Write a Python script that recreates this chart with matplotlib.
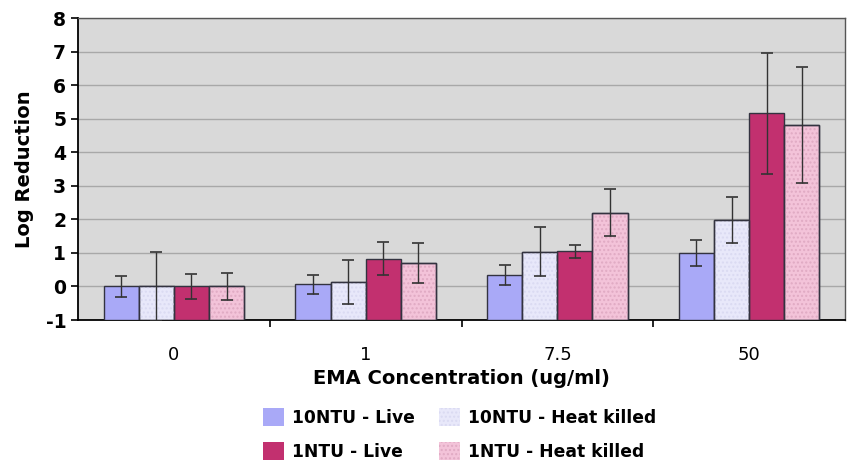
import matplotlib
matplotlib.use("Agg")
import matplotlib.pyplot as plt
import numpy as np
from matplotlib.patches import Patch

categories = ["0", "1", "7.5", "50"]
series_names = ["10NTU - Live", "10NTU - Heat killed", "1NTU - Live", "1NTU - Heat killed"]
live_10 = [0.0, 0.06, 0.35, 0.99]
live_10_err = [0.30, 0.28, 0.30, 0.39]
hk_10 = [0.0, 0.13, 1.03, 1.98]
hk_10_err = [1.03, 0.66, 0.73, 0.68]
live_1 = [0.0, 0.82, 1.05, 5.16]
live_1_err = [0.36, 0.49, 0.19, 1.80]
hk_1 = [0.0, 0.70, 2.20, 4.80]
hk_1_err = [0.40, 0.60, 0.69, 1.73]

values = [live_10, hk_10, live_1, hk_1]
errors = [live_10_err, hk_10_err, live_1_err, hk_1_err]
colors = ["#a9a9f7", "#e8e8fa", "#c2306f", "#f3c3d9"]
hatch_colors = [None, "#dadaf2", None, "#e0aac3"]

plt.rcParams['font.family'] = ['DejaVu Sans']
plt.rcParams['axes.unicode_minus'] = False
fig = plt.figure(figsize=(8.47, 4.63), dpi=100)
ax = fig.add_axes([78/847, (463-320)/463, (845-78)/847, (320-18)/463])
ax.set_facecolor("#d9d9d9")

base = -1.0
x = np.arange(len(categories))
w = 0.183
for i, (vals, errs) in enumerate(zip(values, errors)):
    pos = x + (i - 1.5) * w
    heights = [v - base for v in vals]
    ax.bar(pos, heights, width=w, bottom=base, color=colors[i], edgecolor="#333340",
           linewidth=1.0, zorder=3)
    if hatch_colors[i]:
        ax.bar(pos, heights, width=w, bottom=base, color="none", edgecolor=hatch_colors[i],
               linewidth=0, hatch="....", zorder=3.5)
        ax.bar(pos, heights, width=w, bottom=base, color="none", edgecolor="#333340",
               linewidth=1.0, zorder=3.6)
    ax.errorbar(pos, vals, yerr=errs, fmt="none", ecolor="#333333", elinewidth=1.0,
                capsize=4, capthick=1.2, zorder=4)

ax.set_ylim(-1, 8)
ax.set_xlim(-0.5, 3.5)
ax.set_yticks(range(-1, 9))
ax.yaxis.grid(True, color="#a8a8a8", linewidth=1.0, zorder=0)
ax.set_axisbelow(True)
ax.set_xticks(x)
ax.set_xticklabels(categories, fontsize=13)
ax.set_xticks([0.5, 1.5, 2.5], minor=True)
ax.tick_params(axis="x", which="major", length=0, pad=19)
ax.tick_params(axis="x", which="minor", length=5, width=1.2, color="black")
ax.tick_params(axis="y", length=5, width=1.2, labelsize=13.5)
for lab in ax.get_yticklabels():
    lab.set_fontweight("bold")
for s in ["left", "bottom"]:
    ax.spines[s].set_color("black")
    ax.spines[s].set_linewidth(1.3)
for s in ["top", "right"]:
    ax.spines[s].set_color("#555555")
    ax.spines[s].set_linewidth(1.0)

ax.set_ylabel("Log Reduction", fontsize=14, fontweight="bold", labelpad=8)
ax.set_xlabel("EMA Concentration (ug/ml)", fontsize=14, fontweight="bold", labelpad=3)

handles = []
for i in range(4):
    if hatch_colors[i]:
        handles.append(Patch(facecolor=colors[i], edgecolor=hatch_colors[i], linewidth=0, hatch="...."))
    else:
        handles.append(Patch(facecolor=colors[i], edgecolor="none"))
order = [0, 2, 1, 3]
leg = fig.legend([handles[k] for k in order], [series_names[k] for k in order],
                 loc="upper left", bbox_to_anchor=(263/847, (463-408)/463), ncol=2, frameon=False,
                 fontsize=12.3, handlelength=1.25, handleheight=1.25, columnspacing=1.4,
                 labelspacing=0.9, handletextpad=0.45, borderpad=0, borderaxespad=0)
for t in leg.get_texts():
    t.set_fontweight("bold")

fig.savefig("out.png", dpi=100)
